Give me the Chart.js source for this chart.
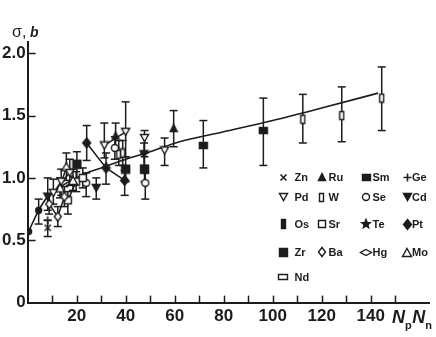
<!DOCTYPE html>
<html lang="en">
<head>
<meta charset="UTF-8">
<title>sigma vs NpNn</title>
<style>
  html, body { margin: 0; padding: 0; background: #fff; }
</style>
</head>
<body>
<canvas id="chart" width="436" height="337"></canvas>
<script src="https://cdn.jsdelivr.net/npm/chart.js"></script>
<script>
    // smooth systematics curve
    const fitX = [0.4, 4.5, 8.2, 12, 16, 20, 24, 30, 40, 50, 62, 80, 100, 120, 143];
    const fitY = [0.57, 0.74, 0.85, 0.91, 0.96, 1.0, 1.04, 1.08, 1.15, 1.21, 1.29, 1.37, 1.46, 1.56, 1.68];

    // data chains, each row: [NpNn, value, lower, upper]
    const dots = [[0.4, 0.57, null, null], [4.5, 0.74, 0.63, 0.83]];
    const zn = [[8.2, 0.60, 0.53, 0.66]];
    const ge = [[8.2, 0.66, null, null]];
    const cd = [[8.2, 0.85, 0.74, 1.0], [28, 0.92, 0.83, 1.0], [47.5, 1.19, 1.1, 1.28]];
    const ba = [[8.8, 0.79, 0.71, 0.87], [12.3, 0.69, 0.61, 0.77], [15, 0.85, 0.77, 0.93]];
    const pdLow = [[10.5, 0.88, 0.79, 0.99], [13.7, 0.97, 0.86, 1.07], [17.2, 1.04, 0.94, 1.15]];
    const mo = [[13.2, 0.92, 0.84, 1.0], [15.8, 1.09, 0.98, 1.2], [18.5, 0.98, 0.9, 1.07]];
    const sr = [[16.4, 0.82, 0.71, 0.89], [19.8, 0.97, 0.89, 1.05], [22.5, 1.0, 0.92, 1.08]];
    const zr = [[20.1, 1.11, 0.99, 1.21], [40, 1.07, 0.97, 1.17], [47.7, 1.07, 0.97, 1.17]];
    const pt = [[24.1, 1.28, 1.14, 1.42], [32, 1.08, 0.95, 1.2], [39.6, 0.98, 0.86, 1.06]];
    const se = [[23.9, 0.96, 0.85, 1.04], [35.6, 1.24, 1.15, 1.33], [48, 0.96, 0.83, 1.04]];
    const pdMid = [[31.3, 1.26, 1.16, 1.44], [40, 1.37, 1.17, 1.61]];
    const ru = [[35.9, 1.34, 1.24, 1.44], [59.6, 1.40, 1.25, 1.54]];
    const wLow = [[37.2, 1.19, 1.1, 1.3], [38.8, 1.2, 1.1, 1.3]];
    const pdHigh = [[47.7, 1.32, 1.2, 1.38], [55.9, 1.22, 1.1, 1.32]];
    const sm = [[71.7, 1.26, 1.08, 1.46], [96.2, 1.38, 1.10, 1.64]];
    const wHigh = [[112.3, 1.47, 1.28, 1.67], [128.2, 1.50, 1.29, 1.73], [144.5, 1.64, 1.38, 1.89]];

    const legendNames = ['Zn', 'Ru', 'Sm', 'Ge', 'Pd', 'W', 'Se', 'Cd', 'Os', 'Sr', 'Te', 'Pt', 'Zr', 'Ba', 'Hg', 'Mo', 'Nd'];

    const ink = '#1c1c1c';
    const fam = '"Liberation Sans", Arial, Helvetica, sans-serif';

    // little marker pictures used both in the plot and in the legend
    function mk(shape, fill, w, h) {
        const c = document.createElement('canvas');
        c.width = w + 3;
        c.height = h + 3;
        const g = c.getContext('2d');
        const l = 1.5, t = 1.5, r = w + 1.5, b = h + 1.5;
        const cx = (l + r) / 2, cy = (t + b) / 2;
        g.lineWidth = 1.4;
        g.strokeStyle = ink;
        g.fillStyle = fill ? ink : '#fff';
        g.beginPath();
        if (shape === 'rect') g.rect(l, t, w, h);
        if (shape === 'tri') { g.moveTo(cx, t); g.lineTo(r, b); g.lineTo(l, b); g.closePath(); }
        if (shape === 'down') { g.moveTo(l, t); g.lineTo(r, t); g.lineTo(cx, b); g.closePath(); }
        if (shape === 'diamond') { g.moveTo(cx, t); g.lineTo(r, cy); g.lineTo(cx, b); g.lineTo(l, cy); g.closePath(); }
        if (shape === 'circle') g.arc(cx, cy, w / 2, 0, Math.PI * 2);
        if (shape === 'star') {
            for (let i = 0; i < 10; i++) {
                const a = -Math.PI / 2 + i * Math.PI / 5;
                const rr = i % 2 ? w / 4.5 : w / 2;
                g.lineTo(cx + rr * Math.cos(a), cy + rr * Math.sin(a));
            }
            g.closePath();
        }
        if (shape === 'x' || shape === 'plus') {
            if (shape === 'x') { g.moveTo(l, t); g.lineTo(r, b); g.moveTo(r, t); g.lineTo(l, b); }
            else { g.moveTo(cx, t); g.lineTo(cx, b); g.moveTo(l, cy); g.lineTo(r, cy); }
            g.lineWidth = 1.6;
            g.stroke();
            return c;
        }
        g.fill();
        g.stroke();
        return c;
    }

    const markers = {
        Zn: mk('x', false, 6, 6),
        Ru: mk('tri', true, 7, 7),
        Sm: mk('rect', true, 8, 6),
        Ge: mk('plus', false, 8, 8),
        Pd: mk('down', false, 8, 7),
        W: mk('rect', false, 4, 8),
        Se: mk('circle', false, 7, 7),
        Cd: mk('down', true, 8, 7),
        Os: mk('rect', true, 4, 9),
        Sr: mk('rect', false, 7, 7),
        Te: mk('star', true, 9, 9),
        Pt: mk('diamond', true, 8, 10),
        Zr: mk('rect', true, 8, 8),
        Ba: mk('diamond', false, 7, 9),
        Hg: mk('diamond', false, 11, 6),
        Mo: mk('tri', false, 9, 8),
        Nd: mk('rect', false, 9, 5),
        dot: mk('circle', true, 6, 6)
    };

    function chain(rows, key, join) {
        return {
            label: key,
            data: rows.map(r => ({ x: r[0], y: r[1] })),
            lo: rows.map(r => r[2]),
            hi: rows.map(r => r[3]),
            pointStyle: markers[key],
            pointRadius: 5,
            showLine: join,
            borderColor: ink,
            backgroundColor: ink,
            borderWidth: 1.5
        };
    }

    const datasets = [
        chain(dots, 'dot', false),
        chain(zn, 'Zn', false),
        chain(ge, 'Ge', false),
        chain(ba, 'Ba', true),
        chain(pdLow, 'Pd', true),
        chain(mo, 'Mo', true),
        chain(sr, 'Sr', true),
        chain(cd, 'Cd', false),
        chain(zr, 'Zr', false),
        chain(pt, 'Pt', true),
        chain(se, 'Se', false),
        chain(pdMid, 'Pd', true),
        chain(ru, 'Ru', false),
        chain(wLow, 'W', true),
        chain(pdHigh, 'Pd', false),
        chain(sm, 'Sm', false),
        chain(wHigh, 'W', false),
        {
            label: 'fit',
            data: fitX.map((v, i) => ({ x: v, y: fitY[i] })),
            showLine: true,
            pointRadius: 0,
            borderColor: ink,
            borderWidth: 1.6,
            cubicInterpolationMode: 'monotone'
        }
    ];

    function line(ctx, x0, y0, x1, y1) {
        ctx.beginPath();
        ctx.moveTo(x0, y0);
        ctx.lineTo(x1, y1);
        ctx.stroke();
    }

    const decor = {
        id: 'decor',
        beforeDatasetsDraw(chart) {
            // error bars under the markers
            const { ctx, scales: { x, y } } = chart;
            ctx.save();
            ctx.strokeStyle = ink;
            ctx.lineWidth = 1.5;
            chart.data.datasets.forEach(ds => {
                if (!ds.lo) return;
                ds.data.forEach((p, i) => {
                    if (ds.lo[i] == null) return;
                    const px = x.getPixelForValue(p.x);
                    const y0 = y.getPixelForValue(ds.lo[i]);
                    const y1 = y.getPixelForValue(ds.hi[i]);
                    line(ctx, px, y0, px, y1);
                    line(ctx, px - 4, y0, px + 4, y0);
                    line(ctx, px - 4, y1, px + 4, y1);
                });
            });
            ctx.restore();
        },
        afterDraw(chart) {
            const { ctx, scales: { x, y }, chartArea: a } = chart;
            ctx.save();
            ctx.strokeStyle = ink;
            ctx.lineWidth = 1.5;
            // inward tick marks
            x.ticks.forEach(t => {
                if (t.value <= 0 || t.value > 150) return;
                const px = Math.round(x.getPixelForValue(t.value)) + 0.5;
                line(ctx, px, a.bottom, px, a.bottom - 7);
            });
            y.ticks.forEach(t => {
                if (t.value <= 0) return;
                const py = Math.round(y.getPixelForValue(t.value)) + 0.5;
                line(ctx, a.left, py, a.left + 8, py);
            });

            // axis titles
            ctx.fillStyle = ink;
            ctx.textBaseline = 'alphabetic';
            ctx.textAlign = 'left';
            ctx.font = '16px ' + fam;
            ctx.fillText('\u03c3,', 12, 37);
            ctx.font = 'italic bold 14px ' + fam;
            ctx.fillText('b', 30, 37);

            let nx = 392;
            const parts = [['N', 'italic bold 18px '], ['p', 'bold 11px '], ['N', 'italic bold 18px '], ['n', 'bold 11px ']];
            parts.forEach(([s, f]) => {
                ctx.font = f + fam;
                ctx.fillText(s, nx, s === 'N' ? 323 : 329);
                nx += ctx.measureText(s).width + (s === 'N' ? 0 : 0.5);
            });

            // legend, four columns
            const colMark = [283, 321.5, 366, 407];
            const colText = [294.5, 328.5, 372.5, 412];
            const rowY = [177, 197, 224, 252, 277];
            ctx.font = 'bold 11px ' + fam;
            ctx.textBaseline = 'middle';
            legendNames.forEach((name, i) => {
                const c = i % 4, r = Math.floor(i / 4);
                const m = markers[name];
                ctx.drawImage(m, Math.round(colMark[c] - m.width / 2), Math.round(rowY[r] - m.height / 2));
                ctx.fillText(name, colText[c], rowY[r] + 0.5);
            });
            ctx.restore();
        }
    };

    const tickFont = { family: fam, size: 17, weight: 'bold' };

    new Chart(document.getElementById('chart'), {
        type: 'scatter',
        data: { datasets: datasets },
        options: {
            responsive: false,
            animation: false,
            events: [],
            layout: { padding: { left: 0, top: 42, right: 6, bottom: 6 } },
            plugins: { legend: { display: false }, tooltip: { enabled: false } },
            scales: {
                x: {
                    type: 'linear',
                    min: 0,
                    max: 164,
                    grid: { display: false, drawTicks: false },
                    border: { color: ink, width: 2 },
                    ticks: {
                        stepSize: 10,
                        autoSkip: false,
                        includeBounds: false,
                        maxRotation: 0,
                        padding: 4,
                        color: ink,
                        font: tickFont,
                        callback: v => (v > 0 && v <= 140 && v % 20 === 0) ? String(v) : ''
                    }
                },
                y: {
                    type: 'linear',
                    min: 0,
                    max: 2.09,
                    grid: { display: false, drawTicks: false },
                    border: { color: ink, width: 2 },
                    ticks: {
                        stepSize: 0.5,
                        includeBounds: false,
                        padding: 2,
                        color: ink,
                        font: tickFont,
                        callback: v => v === 0 ? '0' : v.toFixed(1)
                    }
                }
            }
        },
        plugins: [decor]
    });
</script>
</body>
</html>
